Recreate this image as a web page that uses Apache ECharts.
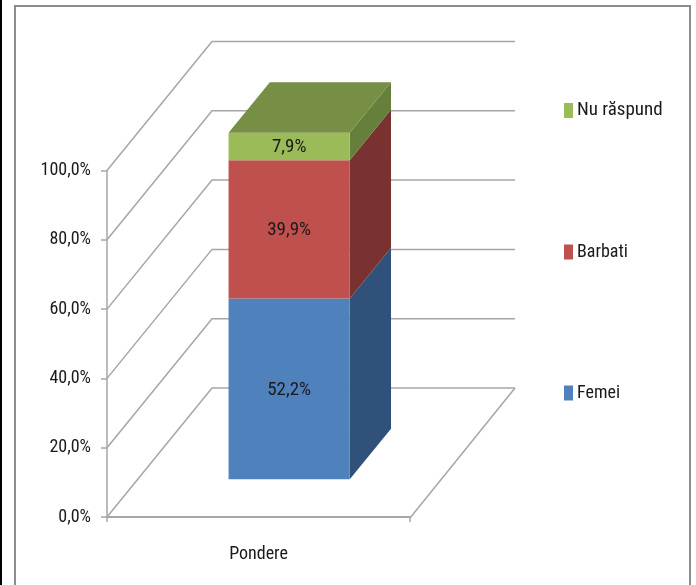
<!DOCTYPE html>
<html>
<head>
<meta charset="utf-8">
<style>html,body{margin:0;padding:0;background:#fff;overflow:hidden}#c{width:696px;height:585px}</style>
<script src="https://cdn.jsdelivr.net/npm/echarts@6/dist/echarts.min.js"></script>
</head>
<body>
<div id="c"></div>
<script>
var categories = ['Pondere'];
var femei = [52.2];
var barbati = [39.9];
var nuRaspund = [7.9];
var yTicks = [0, 20, 40, 60, 80, 100];

var FONT = '"Roboto Condensed","Liberation Sans",sans-serif';
var GRID = '#A6A6A6';
var DEPTH = [105, -129];          // full floor depth, in pixels
var BAR_FRONT = 0.292;            // bar front plane, share of the depth
var BAR_DEPTH = 0.393;            // bar depth, share of the depth
var BAR_WIDTH = 0.4;              // bar width, share of the category band

function pct(v) { return v.toFixed(1).replace('.', ',') + '%'; }

function wallItem(params, api) {
  var cs = params.coordSys;
  var p = api.coord([0, api.value(0)]);
  var left = cs.x;
  var lineStyle = { stroke: GRID, lineWidth: 1.5, fill: null };
  var children = [{
    type: 'polyline',
    shape: { points: [[left, p[1]], [left + DEPTH[0], p[1] + DEPTH[1]], [left + cs.width + DEPTH[0], p[1] + DEPTH[1]]] },
    style: lineStyle
  }];
  if (api.value(0) === 0) {
    children.push({
      type: 'polyline',
      shape: { points: [[left + cs.width, p[1] + 1], [left + cs.width + DEPTH[0], p[1] + DEPTH[1]]] },
      style: lineStyle
    });
  }
  return { type: 'group', children: children };
}

function barItem(front, side, topColor) {
  return function (params, api) {
    var lo = api.coord([api.value(0), api.value(1)]);
    var hi = api.coord([api.value(0), api.value(2)]);
    var w = api.size([1, 0])[0] * BAR_WIDTH;
    var ox = DEPTH[0] * BAR_FRONT, oy = DEPTH[1] * BAR_FRONT;
    var dx = DEPTH[0] * BAR_DEPTH, dy = DEPTH[1] * BAR_DEPTH;
    var x0 = lo[0] - w / 2 + ox, x1 = lo[0] + w / 2 + ox;
    var y0 = lo[1] + oy, y1 = hi[1] + oy;
    var children = [
      { type: 'polygon', shape: { points: [[x1, y0], [x1 + dx, y0 + dy], [x1 + dx, y1 + dy], [x1, y1]] }, style: { fill: side } },
      { type: 'rect', shape: { x: x0, y: y1, width: x1 - x0, height: y0 - y1 }, style: { fill: front } }
    ];
    if (topColor) {
      children.push({ type: 'polygon', shape: { points: [[x0, y1], [x0 + dx, y1 + dy], [x1 + dx, y1 + dy], [x1, y1]] }, style: { fill: topColor } });
    }
    children.push({
      type: 'text',
      style: {
        text: pct(api.value(2) - api.value(1)),
        x: (x0 + x1) / 2, y: (y0 + y1) / 2 + 1,
        align: 'center', verticalAlign: 'middle',
        font: '19px ' + FONT, fill: '#1a1a1a'
      }
    });
    return { type: 'group', children: children };
  };
}

var stack = [
  { name: 'Femei', values: femei, front: '#4F81BD', side: '#30527A' },
  { name: 'Barbati', values: barbati, front: '#C0504D', side: '#7A3230' },
  { name: 'Nu răspund', values: nuRaspund, front: '#9BBB59', side: '#667F3A', top: '#778F45' }
];

var cum = categories.map(function () { return 0; });
var barSeries = stack.map(function (s, k) {
  var data = categories.map(function (c, i) {
    var row = [i, cum[i], cum[i] + s.values[i]];
    cum[i] += s.values[i];
    return row;
  });
  return {
    type: 'custom', name: s.name, coordinateSystem: 'cartesian2d', z: 5 + k,
    itemStyle: { color: s.front },
    encode: { x: 0, y: [1, 2] },
    renderItem: barItem(s.front, s.side, s.top),
    data: data
  };
});

var chart = echarts.init(document.getElementById('c'), null, { renderer: 'canvas' });
chart.setOption({
  animation: false,
  backgroundColor: '#fff',
  graphic: [
    { type: 'rect', z: 0, shape: { x: 0, y: 0, width: 2, height: 585 }, style: { fill: '#000' } },
    { type: 'rect', z: 0, shape: { x: 15, y: 6, width: 675, height: 600 }, style: { fill: null, stroke: '#8C8C8C', lineWidth: 2 } }
  ],
  grid: { left: 107, top: 170.5, width: 303, height: 346.5 },
  legend: {
    orient: 'vertical', left: 559, top: 96,
    itemWidth: 9, itemHeight: 15, itemGap: 123,
    icon: 'rect',
    data: [
      { name: 'Nu răspund', textStyle: { fontSize: 19 } },
      { name: 'Barbati' },
      { name: 'Femei' }
    ],
    textStyle: { fontFamily: FONT, fontSize: 18, color: '#1a1a1a', padding: [0, 0, 0, -1] },
    selectedMode: false
  },
  tooltip: { show: false },
  xAxis: {
    type: 'category', data: categories, boundaryGap: true,
    axisLine: { lineStyle: { color: GRID, width: 2 } },
    axisTick: { show: true, length: 5, lineStyle: { color: GRID, width: 1.5 } },
    axisLabel: { fontFamily: FONT, fontSize: 18, color: '#1a1a1a', margin: 28 },
    splitLine: { show: false }
  },
  yAxis: {
    type: 'value', min: 0, max: 100, interval: 20,
    axisLine: { show: true, lineStyle: { color: GRID, width: 1.5 } },
    axisTick: { show: true, length: 6, lineStyle: { color: GRID, width: 1.5 } },
    axisLabel: { fontFamily: FONT, fontSize: 18, color: '#1a1a1a', margin: 16, padding: [3, 0, 0, 0], formatter: function (v) { return pct(v); } },
    splitLine: { show: false }
  },
  series: [{
    type: 'custom', name: 'walls', coordinateSystem: 'cartesian2d', z: 1,
    encode: { y: 0 }, silent: true,
    renderItem: wallItem,
    data: yTicks.map(function (t) { return [t]; })
  }].concat(barSeries)
});
</script>
</body>
</html>
